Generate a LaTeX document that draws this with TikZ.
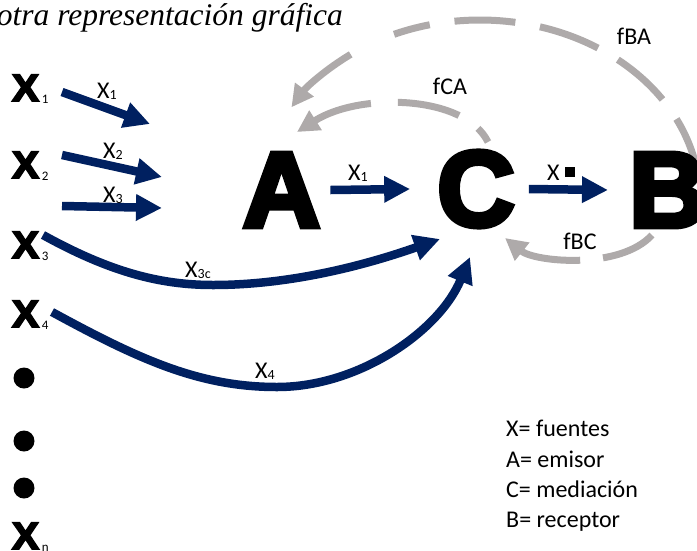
\documentclass[tikz,border=0pt]{standalone}
\usepackage{fontspec}
\setmainfont{Carlito}
\newfontfamily\heavy{Liberation Sans Bold}[FakeBold=5]
\newfontfamily\titlefont{Liberation Serif}
\usetikzlibrary{arrows.meta,calc}
\definecolor{navyc}{RGB}{0,32,96}
\definecolor{grayc}{RGB}{174,170,170}
\newcommand\subnum[1]{{\normalfont\fontsize{13}{13}\selectfont\kern3pt\raisebox{-2pt}{#1}}}
\newcommand\lsub[1]{{\fontsize{14}{14}\selectfont\raisebox{-1.5pt}{#1}}}
\begin{document}
\begin{tikzpicture}[x=1pt,y=-1pt,
  navyarr/.style={draw=navyc, line width=8.5pt, -{Triangle[width=25pt,length=26pt]}},
  grayarr/.style={draw=grayc, line width=7pt, -{Triangle[width=22pt,length=22pt]}},
  graydash/.style={draw=grayc, line width=7pt},
  bigletter/.style={inner sep=0pt, font=\fontsize{107}{107}\selectfont\heavy},
  xnode/.style={inner sep=0pt, anchor=base west, font=\fontsize{38}{38}\selectfont\heavy},
  lbl/.style={inner sep=0pt, anchor=base west, font=\fontsize{24}{24}\selectfont},
  clbl/.style={inner sep=0pt, font=\fontsize{24}{24}\selectfont},
  dotnode/.style={circle, fill=black, inner sep=0pt, minimum size=21pt},
]
\useasboundingbox (0,0) rectangle (697,550);
\clip (0,0) rectangle (697,550);

% title
\node[anchor=base east, inner sep=0pt, font=\fontsize{31.5}{31.5}\selectfont\titlefont\itshape] (title) at (343,25) {otra representación gráfica};

% gray feedback arrows
\coordinate (fbaS) at ($(480,200)+(-113:220 and 180)$);
\coordinate (fbaT) at ($(480,200)+(-126:220 and 180)$);
\draw[graydash, dash pattern=on 37pt off 25pt on 61pt off 25pt on 62pt off 23pt on 60pt off 24pt on 60pt off 24pt]
  (fbaS) arc[start angle=-113, end angle=0, x radius=220, y radius=180];
\draw[grayarr] (fbaT) arc[start angle=-126, end angle=-149, x radius=220, y radius=180];

\coordinate (fcaS) at (488,142);
\coordinate (fcaE) at (297,132);
\draw[grayarr, dash pattern=on 17pt off 23pt on 63pt off 27pt on 300pt]
  (fcaS) .. controls (465,95) and (360,92) .. (fcaE);

\coordinate (fbcS) at (652,235);
\coordinate (fbcE) at (505,238);
\draw[grayarr, dash pattern=on 55pt off 23pt on 300pt]
  (fbcS) .. controls (620,270) and (535,262) .. (fbcE);

\node[clbl] (lfba) at (634,36) {fBA};
\node[clbl] (lfca) at (450,86) {fCA};
\node[clbl] (lfbc) at (580,241) {fBC};

% big letters
\node[bigletter] (A) at (281.5,190) {A};
\node[bigletter] (C) at (476,189) {C};
\node[bigletter, anchor=west] (B) at (629,190) {B};

% sources
\node[xnode] (X1) at (12,101) {\scalebox{1.05}[1]{X}\subnum{1}};
\node[xnode] (X2) at (12,178) {\scalebox{1.05}[1]{X}\subnum{2}};
\node[xnode] (X3) at (12,258) {\scalebox{1.05}[1]{X}\subnum{3}};
\node[xnode] (X4) at (12,327) {\scalebox{1.05}[1]{X}\subnum{4}};
\node[xnode] (Xn) at (12,549) {\scalebox{1.05}[1]{X}\subnum{n}};
\node[dotnode] (d1) at (24,378) {};
\node[dotnode] (d2) at (24,441) {};
\node[dotnode] (d3) at (24,488) {};

% navy arrows
\coordinate (t1) at (62,92);  \coordinate (h1) at (150,124);
\coordinate (t2) at (62,155); \coordinate (h2) at (162,177);
\coordinate (t3) at (62,206); \coordinate (h3) at (162,208);
\draw[navyarr] (t1) -- (h1);
\draw[navyarr] (t2) -- (h2);
\draw[navyarr] (t3) -- (h3);
\node[lbl] (l1) at (97,98) {X\lsub{1}};
\node[lbl] (l2) at (103,158) {X\lsub{2}};
\node[lbl] (l3) at (103,202) {X\lsub{3}};

\draw[navyarr] ([xshift=10pt]A.east) -- ([xshift=-27pt]C.west);
\node[lbl] (lac) at (348,180) {X\lsub{1}};
\draw[navyarr] ([xshift=14pt]C.east) -- ([xshift=-21pt]B.west);
\node[lbl] (lcb) at (547,180) {X\kern5pt\raisebox{3pt}{\rule{10pt}{10pt}}};

\coordinate (x3s) at (43,235);
\coordinate (x3e) at (440,239);
\draw[navyarr] (x3s) .. controls (110,272) and (160,285) .. (213,285)
  .. controls (300,285) and (380,260) .. (x3e);
\node[lbl] (l3c) at (185,277) {X\lsub{3c}};

\coordinate (x4s) at (52,312);
\coordinate (x4e) at (470,257);
\draw[navyarr] (x4s) .. controls (140,360) and (200,387) .. (277,387)
  .. controls (360,387) and (440,330) .. (x4e);
\node[lbl] (l4) at (255,378) {X\lsub{4}};

% legend
\node[lbl] (g1) at (506,436) {X= fuentes};
\node[lbl] (g2) at (506,467) {A= emisor};
\node[lbl] (g3) at (506,497) {C= mediación};
\node[lbl] (g4) at (506,527) {B= receptor};
\end{tikzpicture}
\end{document}
